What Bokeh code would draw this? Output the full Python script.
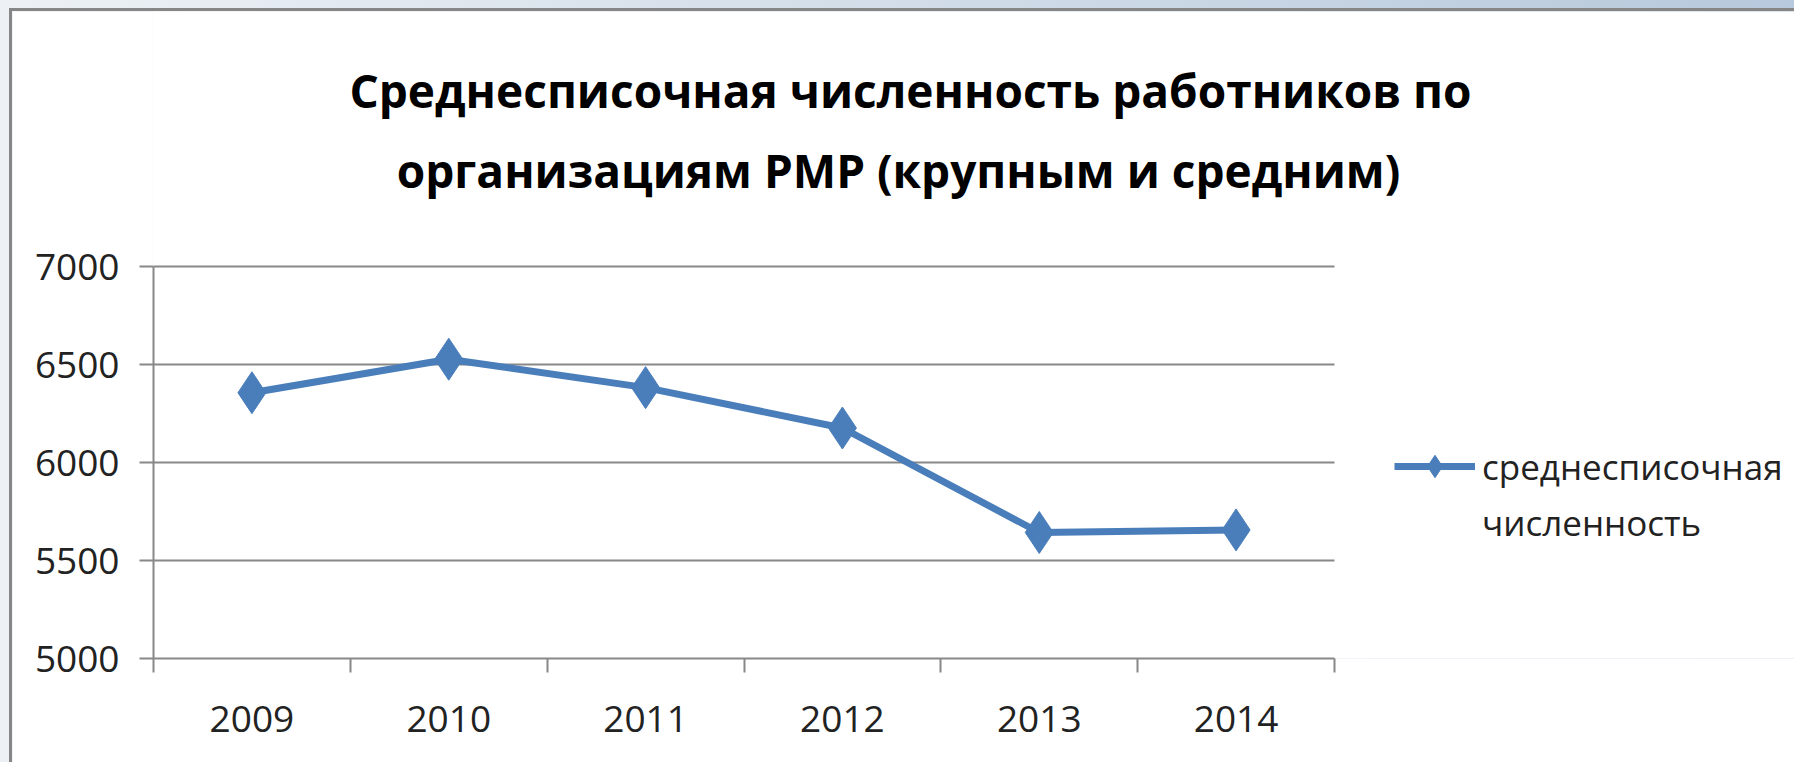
from bokeh.plotting import figure
from bokeh.models import Range1d, FixedTicker, Label, Legend, LegendItem
from bokeh.embed import file_html
from bokeh.resources import INLINE

years = ["2009", "2010", "2011", "2012", "2013", "2014"]
headcount = [6356, 6527, 6382, 6176, 5643, 5656]
y_ticks = [5000, 5500, 6000, 6500, 7000]
title_lines = ["Среднесписочная численность работников по",
               "организациям РМР (крупным и средним)"]
series_lines = ["среднесписочная", "численность"]

BLUE = "#4a7ebb"
GRAY = "#888888"
FONT = "Open Sans"

# layout (pixels)
W, H = 1794, 762
LEFT, BOTTOM = 141, 115
DATA_W, DATA_H = 1181, 392          # pixel size of the plotted data area
FRAME_W, FRAME_H = W - LEFT, H - BOTTOM
Y0, Y1 = y_ticks[0], y_ticks[-1]
n = len(years)
x_end = n * FRAME_W / DATA_W
y_end = Y0 + (Y1 - Y0) * FRAME_H / DATA_H


def px_to_x(px_from_frame_left):
    return px_from_frame_left * n / DATA_W


def px_to_y(px_above_axis):
    return Y0 + px_above_axis * (Y1 - Y0) / DATA_H


xs = [i + 0.5 for i in range(n)]

p = figure(width=W, height=H, output_backend="svg", toolbar_location=None,
           x_range=Range1d(0, x_end), y_range=Range1d(Y0, y_end),
           min_border_left=LEFT, min_border_right=0, min_border_top=0,
           min_border_bottom=BOTTOM)
p.styles = {
    "padding": "11px 0 0 12px",
    "background": ("linear-gradient(#868686,#868686) 9px 8px / 100% 3px no-repeat, "
                   "linear-gradient(#868686,#868686) 9px 8px / 3px 100% no-repeat, "
                   "linear-gradient(to right, #edf1f5, #b7c9dc)"),
}
p.outline_line_color = None
p.background_fill_color = "white"
p.border_fill_color = "white"

# x axis
xa = p.xaxis[0]
xa.bounds = (0, n)
xa.ticker = FixedTicker(ticks=xs, minor_ticks=list(range(n + 1)))
xa.major_label_overrides = {x: y for x, y in zip(xs, years)}
xa.major_tick_out = 0
xa.major_tick_in = 0
xa.minor_tick_out = 14
xa.minor_tick_in = 0
xa.minor_tick_line_color = GRAY
xa.minor_tick_line_width = 2
xa.axis_line_color = GRAY
xa.axis_line_width = 2
xa.major_label_text_font = FONT
xa.major_label_text_font_size = "37px"
xa.major_label_text_color = "#222222"
xa.major_label_standoff = 33
p.xgrid.grid_line_color = None

# y axis
ya = p.yaxis[0]
ya.bounds = (Y0, Y1)
ya.ticker = FixedTicker(ticks=y_ticks, minor_ticks=[])
ya.major_tick_out = 14
ya.major_tick_in = 0
ya.major_tick_line_color = GRAY
ya.major_tick_line_width = 2
ya.axis_line_color = GRAY
ya.axis_line_width = 2
ya.major_label_text_font = FONT
ya.major_label_text_font_size = "37px"
ya.major_label_text_color = "#222222"
ya.major_label_standoff = 20

yg = p.ygrid[0]
if "cross_bounds" in yg.properties():
    yg.cross_bounds = (0, n)
    yg.grid_line_color = GRAY
    yg.grid_line_width = 2
else:
    yg.grid_line_color = None
    p.segment(x0=[0] * len(y_ticks), y0=y_ticks, x1=[n] * len(y_ticks), y1=y_ticks,
              line_color=GRAY, line_width=2)

line = p.line(xs, headcount, line_color=BLUE, line_width=7, line_join="round")
pts = p.scatter(xs, headcount, marker="diamond", size=42, fill_color=BLUE,
                line_color=BLUE)
blank = p.line([], [], line_alpha=0)

legend = Legend(items=[LegendItem(label=series_lines[0], renderers=[line, pts]),
                       LegendItem(label=series_lines[1], renderers=[blank])],
                location=(1241, 108), glyph_width=81, glyph_height=56,
                label_standoff=7, padding=0, margin=0, spacing=0,
                border_line_alpha=0, background_fill_alpha=0,
                label_text_font=FONT, label_text_font_size="35px",
                label_text_color="#222222")
p.add_layout(legend, "center")

# title lines: centre (px from frame left), baseline (px above the x axis)
title_cx = [757, 745]
title_base = [569, 489]
for txt, cx, by in zip(title_lines, title_cx, title_base):
    p.add_layout(Label(x=px_to_x(cx), y=px_to_y(by), text=txt,
                       text_align="center", text_baseline="alphabetic",
                       text_font=FONT, text_font_style="bold",
                       text_font_size="46px", text_color="black"))

open("out.html", "w").write(file_html(p, INLINE))
